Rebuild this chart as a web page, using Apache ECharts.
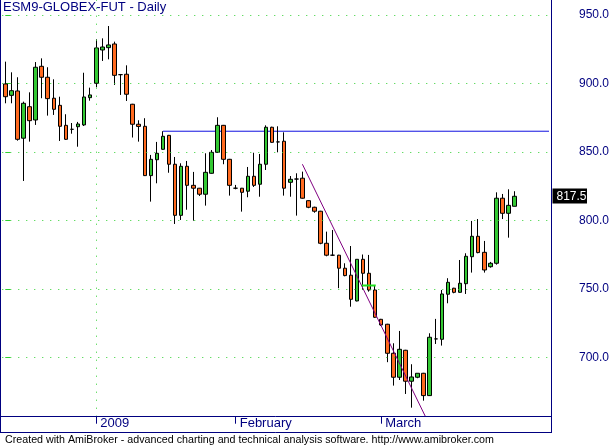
<!DOCTYPE html>
<html><head><meta charset="utf-8">
<script src="https://cdn.jsdelivr.net/npm/echarts@6/dist/echarts.min.js"></script>
<style>html,body{margin:0;padding:0;background:#fff}#c{width:612px;height:446px}</style>
</head><body><div id="c"></div>
<script>
const tickIdx = [15, 38, 62];
const tickText = ['2009', 'February', 'March'];
const opens  = [899.5,891.2,894.4,859.9,882.9,873.2,912.4,904.4,889.1,883.9,869.3,866.4,868.3,869.6,889.5,900.0,924.3,926.0,928.7,906.3,906.6,884.7,870.1,868.6,832.6,844.2,851.8,862.0,840.9,803.6,839.4,825.5,823.4,819.0,834.3,849.6,869.3,844.5,823.4,823.4,821.2,832.1,826.3,840.9,867.9,857.2,857.7,827.7,830.1,830.7,814.3,809.5,806.6,783.2,774.5,774.5,765.0,759.9,741.1,771.5,761.3,749.1,727.7,724.1,702.9,685.4,705.1,682.5,685.4,688.3,672.0,713.4,713.1,746.0,750.4,747.4,753.7,773.4,788.3,776.6,766.1,768.6,816.1,805.1,810.2];
const highs  = [915.8,908.0,904.4,886.6,893.4,915.5,918.2,911.7,902.9,890.2,877.4,871.0,871.8,907.7,896.8,932.1,932.8,941.8,930.4,906.8,913.1,885.0,873.0,874.5,847.7,857.2,865.0,862.3,846.2,841.6,843.3,835.3,823.6,848.9,851.3,875.2,869.6,844.8,825.8,823.6,838.9,849.3,848.4,869.3,868.3,868.6,864.2,832.3,834.3,835.5,814.6,809.9,806.9,791.7,792.9,774.8,768.6,781.2,771.5,775.0,774.7,752.3,728.0,724.4,710.2,719.2,705.4,694.9,688.3,688.6,717.5,728.0,749.1,757.7,750.7,771.0,775.9,799.5,800.9,784.9,769.6,820.4,819.2,822.6,821.2];
const lows   = [885.4,885.4,858.1,828.7,857.4,869.6,889.1,876.4,876.9,857.9,858.6,863.2,853.7,868.8,887.3,897.1,916.3,917.5,898.8,891.5,887.1,860.4,857.4,832.3,813.6,827.0,851.5,834.7,797.3,800.2,807.7,799.7,817.7,810.7,834.0,849.3,840.9,818.0,822.6,806.3,816.8,824.3,817.2,836.7,856.6,849.6,818.0,817.2,803.4,815.8,808.8,805.5,782.5,773.7,773.9,750.4,759.1,736.9,740.8,749.1,747.9,728.7,722.8,696.4,679.3,683.4,673.2,663.2,684.7,668.3,671.7,709.7,708.5,739.4,746.7,747.1,746.2,761.8,775.9,761.8,765.4,767.6,800.9,787.3,810.2];
const closes = [890.2,894.6,859.1,885.4,872.7,911.7,904.4,888.8,881.0,868.6,859.1,866.4,870.3,890.0,891.5,925.8,926.5,928.0,905.8,906.3,892.0,870.1,868.5,832.6,844.5,848.9,861.3,840.9,803.6,839.4,825.5,823.4,819.0,835.0,849.6,869.3,844.5,825.5,823.4,820.4,832.1,825.5,840.9,867.9,856.9,857.2,823.4,829.9,830.1,816.1,809.5,806.6,783.2,774.5,774.5,765.0,759.6,742.3,771.5,761.3,749.1,729.2,723.6,702.9,685.4,705.8,682.5,685.6,688.3,672.0,714.6,713.4,746.2,754.7,747.4,754.0,773.7,788.3,776.4,763.7,768.6,816.1,805.1,810.9,817.5];
const priceLevels = [700, 750, 800, 850, 900, 950];
const resistanceLine = [[26, 865], [90, 865]];
const trendLine = [[49, 840.9], [69.3, 656.6]];
const markerLine = [[58.8, 752.3], [61.1, 752.3]];
const yearSplit = 15;
const slots = 90;

const NAVY = '#000080', GREEN = '#33c833', ORANGE = '#ff6a1f', GRIDG = '#2ed02e';
const FONT = 'Liberation Sans';
const GL = 2.27, GW = 545.85, GT = 0, GH = 416.7;

const categories = Array.from({length: slots}, (_, i) => {
  const k = tickIdx.indexOf(i);
  return k >= 0 ? tickText[k] : String(i);
});
const candles = opens.map((o, i) => [o, closes[i], lows[i], highs[i]]);
const isTick = (i) => tickIdx.indexOf(i) >= 0;

const chart = echarts.init(document.getElementById('c'), null, {renderer: 'canvas'});
const option = {
  backgroundColor: '#fff',
  animation: false,
  title: [
    {text: 'ESM9-GLOBEX-FUT - Daily', left: 3, top: 1, padding: 0,
     textStyle: {fontFamily: FONT, fontSize: 13, fontWeight: 'normal', color: NAVY}},
    {text: 'Created with AmiBroker - advanced charting and technical analysis software. http://www.amibroker.com',
     left: 5, top: 434.5, padding: 0,
     textStyle: {fontFamily: FONT, fontSize: 10.7, fontWeight: 'normal', color: '#000'}}
  ],
  grid: {left: GL, top: GT, width: GW, height: GH, containLabel: false},
  xAxis: [
    {type: 'category', data: categories, boundaryGap: true,
     axisLine: {show: false},
     axisTick: {show: true, alignWithLabel: true, interval: (i) => isTick(i), length: 7,
                lineStyle: {color: NAVY, width: 1}},
     axisLabel: {show: true, interval: (i) => isTick(i), align: 'left', margin: 0,
                 padding: [0, 0, 0, 4], color: NAVY, fontFamily: FONT, fontSize: 13},
     splitLine: {show: false}},
    {type: 'value', min: -0.5, max: slots - 0.5, show: false}
  ],
  yAxis: [
    {type: 'value', position: 'right', min: 656.6, max: 960.8, offset: 3, scale: true,
     axisLine: {show: false},
     splitLine: {show: false},
     axisTick: {show: true, customValues: priceLevels, length: 5, lineStyle: {color: GRIDG}},
     axisLabel: {show: true, customValues: priceLevels, margin: 28, color: NAVY,
                 fontFamily: FONT, fontSize: 12, formatter: (v) => Number(v).toFixed(1)}}
  ],
  series: [
    {type: 'line', xAxisIndex: 1, yAxisIndex: 0, data: resistanceLine, symbol: 'none',
     clip: false, z: 1, lineStyle: {color: '#1010e0', width: 1}, silent: true,
     markLine: {silent: true, symbol: 'none', label: {show: false}, animation: false,
       lineStyle: {type: [1, 7], color: GRIDG, width: 1},
       data: priceLevels.map(v => ({yAxis: v})).concat([{xAxis: yearSplit}])}},
    {type: 'candlestick', xAxisIndex: 0, yAxisIndex: 0, data: candles, barWidth: 4, z: 3,
     itemStyle: {color: GREEN, color0: ORANGE, borderColor: '#000', borderColor0: '#000',
                 borderColorDoji: '#000', borderWidth: 1}},
    {type: 'line', xAxisIndex: 1, yAxisIndex: 0, data: trendLine, symbol: 'none', z: 4,
     silent: true, lineStyle: {color: '#800080', width: 1}},
    {type: 'line', xAxisIndex: 1, yAxisIndex: 0, data: markerLine, symbol: 'none', z: 5,
     silent: true, lineStyle: {color: '#20e020', width: 2}}
  ]
};
chart.setOption(option);

const lastClose = closes[closes.length - 1];
const py = chart.convertToPixel({yAxisIndex: 0}, lastClose);
chart.setOption({
  graphic: [
    {type: 'line', shape: {x1: 0.5, y1: 0, x2: 0.5, y2: 433}, style: {stroke: NAVY, lineWidth: 1}, z: 10},
    {type: 'line', shape: {x1: 551.5, y1: 0, x2: 551.5, y2: 433}, style: {stroke: NAVY, lineWidth: 1}, z: 10},
    {type: 'line', shape: {x1: 0, y1: 416.5, x2: 551.5, y2: 416.5}, style: {stroke: NAVY, lineWidth: 1}, z: 10},
    {type: 'line', shape: {x1: 0, y1: 432.5, x2: 551.5, y2: 432.5}, style: {stroke: NAVY, lineWidth: 1}, z: 10},
    {type: 'rect', shape: {x: 552.5, y: Math.round(py) - 7.5, width: 34.5, height: 15}, style: {fill: '#000'}, z: 10},
    {type: 'text', x: 556.5, y: py, style: {text: lastClose.toFixed(1), fill: '#fff', font: '12px "Liberation Sans"',
      textVerticalAlign: 'middle', textAlign: 'left'}, z: 11}
  ]
});
</script></body></html>
